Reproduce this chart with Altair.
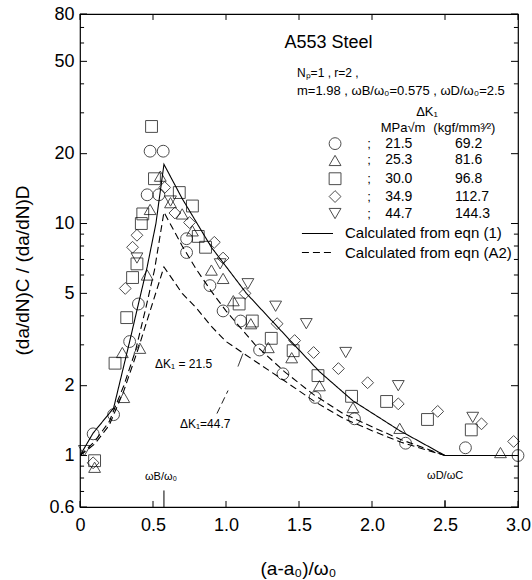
import altair as alt
import pandas as pd

FONT = "Liberation Sans"

circle_x = [0.09, 0.23, 0.34, 0.40, 0.46, 0.54, 0.48, 0.57, 0.73, 0.73, 0.89, 0.98, 1.10, 1.23, 1.39, 1.61, 1.88, 2.23, 2.64, 3.0]
circle_y = [1.24, 1.50, 3.1, 4.5, 13.3, 13.3, 20.5, 20.5, 8.6, 7.5, 5.4, 4.2, 3.8, 2.85, 2.25, 1.78, 1.44, 1.13, 1.08, 1.0]

tri_x = [0.10, 0.29, 0.30, 0.41, 0.46, 0.48, 0.55, 0.62, 0.70, 0.77, 0.90, 0.98, 1.05, 1.17, 1.29, 1.45, 1.64, 1.87, 2.19, 2.88]
tri_y = [0.89, 2.78, 1.78, 2.9, 6.0, 11.5, 16.0, 12.3, 11.0, 9.3, 6.3, 5.8, 4.65, 3.7, 2.92, 2.64, 2.0, 1.61, 1.31, 1.03]

sq_x = [0.10, 0.24, 0.32, 0.36, 0.39, 0.42, 0.43, 0.49, 0.51, 0.68, 0.77, 0.81, 0.86, 1.09, 1.18, 1.31, 1.46, 1.63, 1.86, 2.10, 2.38, 2.68]
sq_y = [0.95, 2.5, 3.93, 5.85, 6.7, 10.0, 11.0, 26.2, 15.6, 13.6, 11.9, 8.8, 7.9, 4.5, 3.8, 3.2, 2.83, 2.21, 1.8, 1.71, 1.43, 1.29]

dia_x = [0.09, 0.31, 0.36, 0.39, 0.58, 0.65, 0.75, 0.92, 0.98, 1.13, 1.35, 1.47, 1.60, 1.77, 1.97, 2.18, 2.45, 2.75, 2.97]
dia_y = [0.93, 5.25, 7.9, 8.9, 14.3, 11.1, 10.1, 8.3, 7.1, 5.0, 3.7, 3.13, 2.78, 2.37, 2.06, 1.67, 1.55, 1.37, 1.15]

tdn_x = [0.03, 0.39, 0.62, 0.96, 1.15, 1.34, 1.55, 1.82, 2.18, 2.69]
tdn_y = [1.05, 7.1, 12.5, 6.7, 5.5, 4.4, 3.7, 2.78, 2.0, 1.46]

dk_mpa = ["21.5", "25.3", "30.0", "34.9", "44.7"]
dk_kgf = ["69.2", "81.6", "96.8", "112.7", "144.3"]
shapes = ["circle", "triangle-up", "square", "diamond", "triangle-down"]

# calculated curves
solid_x = [0, 0.09, 0.23, 0.34, 0.40, 0.46, 0.52, 0.575, 0.7, 0.9, 1.14, 1.44, 1.64, 1.87, 2.19, 2.5, 3.0]
solid_y = [1.0, 1.25, 1.6, 3.1, 4.5, 6.5, 10.0, 18.0, 12.8, 7.9, 5.0, 3.13, 2.3, 1.72, 1.28, 1.0, 1.0]

dashA_x = [0, 0.1, 0.2, 0.3, 0.38, 0.45, 0.51, 0.575, 0.7, 0.8, 0.9, 1.0, 1.2, 1.4, 1.6, 1.8, 2.0, 2.2, 2.5]
dashA_y = [1.0, 1.15, 1.4, 2.0, 2.83, 4.3, 6.3, 11.2, 8.0, 6.3, 5.1, 4.2, 3.0, 2.3, 1.83, 1.52, 1.33, 1.17, 1.0]

dashB_x = [0, 0.1, 0.2, 0.3, 0.40, 0.5, 0.575, 0.7, 0.8, 0.9, 1.0, 1.2, 1.4, 1.6, 1.8, 2.0, 2.2, 2.5]
dashB_y = [1.0, 1.12, 1.35, 1.9, 2.9, 4.6, 6.5, 5.0, 4.3, 3.6, 3.1, 2.55, 2.1, 1.72, 1.45, 1.28, 1.14, 1.0]

x_ticks = [0, 0.5, 1.0, 1.5, 2.0, 2.5, 3.0]
y_labels = [0.6, 1, 2, 5, 10, 20, 50, 80]
y_minor = [0.7, 0.8, 0.9, 3, 4, 6, 7, 8, 9, 30, 40, 60, 70]
y_major = [1, 2, 5, 10, 20, 50]

XD = [0, 3]
YD = [0.6, 80]

# ---------------- tables ----------------
pts = pd.concat([
    pd.DataFrame({"x": circle_x, "y": circle_y, "dk": dk_mpa[0]}),
    pd.DataFrame({"x": tri_x, "y": tri_y, "dk": dk_mpa[1]}),
    pd.DataFrame({"x": sq_x, "y": sq_y, "dk": dk_mpa[2]}),
    pd.DataFrame({"x": dia_x, "y": dia_y, "dk": dk_mpa[3]}),
    pd.DataFrame({"x": tdn_x, "y": tdn_y, "dk": dk_mpa[4]}),
])

curves = pd.concat([
    pd.DataFrame({"x": solid_x, "y": solid_y, "c": "solid", "o": range(len(solid_x))}),
    pd.DataFrame({"x": dashA_x, "y": dashA_y, "c": "dashA", "o": range(len(dashA_x))}),
    pd.DataFrame({"x": dashB_x, "y": dashB_y, "c": "dashB", "o": range(len(dashB_x))}),
])

xs = alt.Scale(domain=XD, nice=False, zero=False)
ys = alt.Scale(type="log", domain=YD, nice=False)
shape_scale = alt.Scale(domain=dk_mpa, range=shapes)
dash_scale = alt.Scale(domain=["solid", "dashA", "dashB"], range=[[1, 0], [7, 4], [7, 4]])

AX = alt.Axis(values=x_ticks, title="(a-a₀)/ω₀",
              labelExpr="datum.value == 0 ? '0' : format(datum.value, '.1f')",
              labelPadding=9, labelFlush=False, titleX=218, titleY=61,
              titleBaseline="middle", titleAlign="center")
AY = alt.Axis(values=y_labels, format="~g", title="(da/dN)C / (da/dN)D",
              labelPadding=6, labelFlush=False, titleX=-58, titleY=256, titleAngle=-90,
              titleAlign="center", titleBaseline="middle")

X = lambda f="x": alt.X(f"{f}:Q", scale=xs, axis=AX)
Y = lambda f="y": alt.Y(f"{f}:Q", scale=ys, axis=AY)

lines = alt.Chart(curves).mark_line(color="black", strokeWidth=1.1, clip=True).encode(
    x=X(), y=Y(), detail="c:N", order="o:Q",
    strokeDash=alt.StrokeDash("c:N", scale=dash_scale, legend=None),
)

points = alt.Chart(pts).mark_point(filled=False, color="black", strokeWidth=1, size=140).encode(
    x=X(), y=Y(), shape=alt.Shape("dk:N", scale=shape_scale, legend=None),
)

# ---------------- legend (in data coordinates) ----------------
row_y = [22.1, 18.7, 15.6, 13.07, 11.04]
leg = pd.DataFrame({"x": [1.747] * 5, "y": row_y, "dk": dk_mpa, "kgf": dk_kgf,
                    "semi": [";"] * 5, "xs": [1.98] * 5, "xv": [2.09] * 5, "xk": [2.568] * 5})
leg_pts = alt.Chart(leg).mark_point(filled=False, color="black", strokeWidth=1, size=140).encode(
    x=X(), y=Y(), shape=alt.Shape("dk:N", scale=shape_scale, legend=None))
leg_semi = alt.Chart(leg).mark_text(font=FONT, fontSize=13, align="center", baseline="middle").encode(
    x=X("xs"), y=Y(), text="semi:N")
leg_v = alt.Chart(leg).mark_text(font=FONT, fontSize=14, align="left", baseline="middle").encode(
    x=X("xv"), y=Y(), text="dk:N")
leg_k = alt.Chart(leg).mark_text(font=FONT, fontSize=14, align="left", baseline="middle").encode(
    x=X("xk"), y=Y(), text="kgf:N")

leg_lines = pd.DataFrame({"x": [1.52, 1.52], "x2": [1.733, 1.733], "y": [9.06, 7.5],
                          "c": ["solid", "dashA"],
                          "t": ["Calculated from eqn (1)", "Calculated from eqn (A2)"], "xt": [1.815, 1.815]})
leg_rule = alt.Chart(leg_lines).mark_rule(color="black", strokeWidth=1.1).encode(
    x=X(), x2="x2:Q", y=Y(),
    strokeDash=alt.StrokeDash("c:N", scale=dash_scale, legend=None))
leg_txt = alt.Chart(leg_lines).mark_text(font=FONT, fontSize=15, align="left", baseline="middle").encode(
    x=X("xt"), y=Y(), text="t:N")

# ---------------- annotations ----------------
ann = pd.DataFrame({
    "x": [1.40, 1.486, 1.486, 2.377, 2.06, 2.42, 0.514, 0.685, 0.445, 2.377],
    "y": [59.7, 44.7, 37.4, 30.1, 25.9, 25.9, 2.49, 1.374, 0.812, 0.82],
    "t": ["A553 Steel", "Nₚ=1  ,  r=2 ,", "m=1.98 , ωB/ω₀=0.575 , ωD/ω₀=2.5", "ΔK₁",
          "MPa√m", "(kgf/mm³⁄²)", "ΔK₁ = 21.5", "ΔK₁=44.7", "ωB/ω₀", "ωD/ωC"],
    "s": [18, 12, 13, 13, 13, 13, 12, 12, 11, 11],
    "a": ["left", "left", "left", "center", "left", "left", "left", "left", "left", "left"],
})
ann_layers = []
for a in ["left", "center"]:
    sub = ann[ann["a"] == a]
    ann_layers.append(alt.Chart(sub).mark_text(font=FONT, align=a, baseline="middle").encode(
        x=X(), y=Y(), text="t:N", size=alt.Size("s:Q", scale=None, legend=None)))

# leader lines and marker ticks
lead = pd.DataFrame({"x": [1.082, 0.938], "x2": [1.116, 1.014], "y": [2.42, 1.517], "y2": [2.75, 1.906],
                     "k": ["a", "b"]})
lead_ch = alt.Chart(lead).mark_rule(color="black", strokeWidth=0.9).encode(
    x=X(), x2="x2:Q", y=Y(), y2="y2:Q",
    strokeDash=alt.StrokeDash("k:N", scale=alt.Scale(domain=["a", "b"], range=[[1, 0], [2, 3]]), legend=None))
vt = pd.DataFrame({"x": [0.575, 2.5], "y": [0.6, 0.6], "y2": [0.707, 0.66], "k": ["a", "b"]})
vt_ch = alt.Chart(vt).mark_rule(color="black", strokeWidth=1).encode(
    x=X(), y=Y(), y2="y2:Q",
    strokeDash=alt.StrokeDash("k:N", scale=alt.Scale(domain=["a", "b"], range=[[5, 2, 1, 2], [1, 0]]), legend=None))

# ---------------- inward ticks ----------------
tk_rows = []
for v in y_major + [0.6, 80]:
    tk_rows += [{"x": 0, "x2": 0.048, "y": v}, {"x": 2.952, "x2": 3.0, "y": v}]
for v in y_minor:
    tk_rows += [{"x": 0, "x2": 0.028, "y": v}, {"x": 2.972, "x2": 3.0, "y": v}]
ytk = alt.Chart(pd.DataFrame(tk_rows)).mark_rule(color="black", strokeWidth=1).encode(
    x=X(), x2="x2:Q", y=Y())
xtk_rows = []
for v in x_ticks:
    xtk_rows += [{"x": v, "y": 0.6, "y2": 0.637}, {"x": v, "y": 75.4, "y2": 80}]
xtk = alt.Chart(pd.DataFrame(xtk_rows)).mark_rule(color="black", strokeWidth=1).encode(
    x=X(), y=Y(), y2="y2:Q")

chart = alt.layer(
    lines, points, leg_pts, leg_semi, leg_v, leg_k, leg_rule, leg_txt,
    *ann_layers, lead_ch, vt_ch, ytk, xtk,
).properties(
    width=438, height=493,
    autosize=alt.AutoSizeParams(type="none"),
    padding={"left": 80, "top": 14, "right": 14, "bottom": 73},
    background="white",
).configure_view(
    stroke="black", strokeWidth=1.2,
).configure_axis(
    labelFont=FONT, labelFontSize=18, labelColor="black",
    titleFont=FONT, titleFontSize=19, titleFontWeight="normal", titleColor="black",
    ticks=False, domain=False, grid=False,
)

chart.save("out.html", embed_options={"renderer": "svg", "actions": False})
